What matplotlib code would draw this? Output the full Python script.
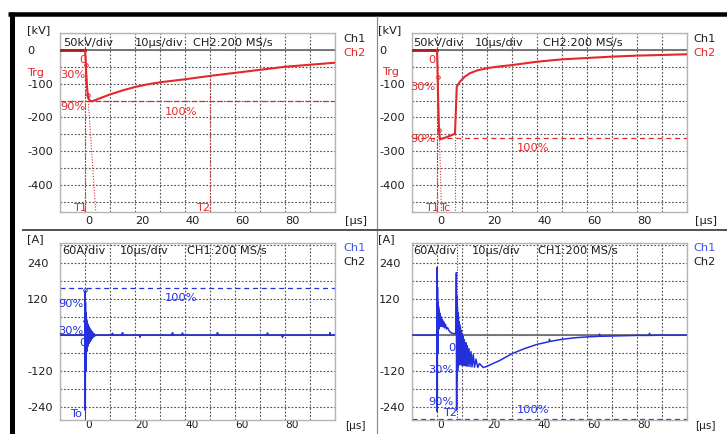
import matplotlib
matplotlib.use("Agg")
import matplotlib.pyplot as plt
from matplotlib.lines import Line2D
import numpy as np

plt.rcParams['font.family'] = ['DejaVu Sans']

# ---------------- data ----------------
# top-left: voltage impulse (kV)
t_v1 = [-10, 0, 0.2, 0.5, 0.9, 1.3, 2, 3, 5, 10, 15, 20, 25, 30, 40, 50, 60, 70, 80, 90, 100]
v1 = [0, 0, -20, -70, -120, -142, -151, -152, -146, -132, -120, -110, -102, -96, -87, -77, -68, -59, -50, -44, -38]

# top-right: chopped voltage impulse (kV)
t_v2 = [-10, 0, 0.2, 0.5, 0.8, 1.2, 2, 4, 6, 7.2, 7.5, 7.9, 9.2, 11, 13.2, 16, 20, 25, 30, 40, 50, 60, 70, 80, 90, 100]
v2 = [0, 0, -50, -160, -235, -265, -263, -258, -252, -248, -190, -109, -94, -80, -69, -61, -54, -49, -45, -35, -28, -24, -20, -17, -15, -13]

# bottom-left: current (A)
t_i1 = [-10, -0.05, 0.0, 0.08, 0.16, 0.25, 0.35, 0.45, 0.55, 0.65, 0.75, 0.85, 0.95, 1.05, 1.15, 1.25,
        1.35, 1.45, 1.55, 1.65, 1.75, 1.9, 2.05, 2.2, 2.35, 2.5, 2.7, 2.9, 3.1, 3.4, 3.7, 4.0, 4.5,
        10.8, 11.0, 11.2, 14.8, 15.0, 15.2, 21.8, 22.0, 22.2, 34.8, 35.0, 35.2, 38.8, 39.0, 39.2,
        52.8, 53.0, 53.2, 72.8, 73.0, 73.2, 78.8, 79.0, 79.2, 97.8, 98.0, 98.2, 100]
i1 = [0, 0, 145, -250, 110, -120, 75, -80, 55, -55, 45, -45, 38, -38, 34, -32,
      30, -28, 27, -25, 24, -22, 20, -18, 16, -14, 12, -10, 8, -6, 4, -2, 0,
      0, 6, 0, 0, 8, 0, 0, -7, 0, 0, 8, 0, 0, 7, 0,
      0, 8, 0, 0, 7, 0, 0, -7, 0, 0, 8, 0, 0]

# bottom-right: current (A)
t_i2 = [-10, -0.05, 0.0, 0.1, 0.2, 0.3, 0.4, 0.5, 0.6, 0.7, 0.8, 0.9, 1.0, 1.1, 1.2, 1.35, 1.5, 1.65,
        1.8, 2.0, 2.2, 2.4, 2.7, 3.0, 3.4, 3.8, 4.2, 5.0, 6.0, 7.0, 7.6,
        7.75, 7.85, 7.95, 8.05, 8.15, 8.25, 8.35, 8.45, 8.55, 8.65, 8.75, 8.9, 9.05, 9.2, 9.35, 9.5,
        9.7, 9.9, 10.1, 10.3, 10.5, 10.7, 10.9, 11.2, 11.5, 11.8, 12.1, 12.4, 12.8, 13.2, 13.6,
        14.0, 14.5, 15.0, 15.6, 16.3, 17.0, 18.5,
        20, 25, 30, 35, 40, 44.8, 45, 45.2, 50, 55, 60, 64.8, 65, 65.2, 70, 80, 84.8, 85, 85.2, 90, 100]
i2 = [0, 0, 225, -255, 160, -60, 110, 10, 95, 20, 85, 25, 75, 28, 70, 30, 62, 30,
      56, 30, 50, 28, 44, 24, 36, 20, 25, 12, 6, 5, 5,
      208, -250, 130, -150, 95, -120, 75, -105, 60, -100, 45, -98, 35, -98, 25, -98,
      15, -100, 5, -100, -5, -100, -15, -102, -25, -103, -35, -104, -45, -105, -55,
      -106, -65, -107, -80, -108, -95, -108,
      -104, -85, -62, -45, -31, -22, -14, -21, -14, -9, -6, -4, 3, -4, -3, -1, -1, 6, -1, 0, 0]

x_ticklabels = ['0', '20', '40', '60', '80']
kv_ticklabels = ['0', '-100', '-200', '-300', '-400']
a_ticklabels = ['240', '120', '-120', '-240']
peak_v1 = -150
peak_v2 = -262
peak_i1 = 157
peak_i2 = -278

# ---------------- figure ----------------
W, H = 727, 434
fig = plt.figure(figsize=(W / 100, H / 100), dpi=100)
fig.patch.set_facecolor('white')

RED = '#e3282b'
DRED = '#a81c1c'
BLUE = '#2330dc'
LBLUE = '#3b55e6'
TXT = '#1e1e1e'
FS = 8.2


def px_axes(x0, y0, x1, y1):
    return fig.add_axes([x0 / W, 1 - y1 / H, (x1 - x0) / W, (y1 - y0) / H])


def T(x, y, s, color=TXT, size=FS, ha='left'):
    fig.text(x / W, 1 - y / H, s, color=color, fontsize=size, ha=ha, va='center')


def style(ax, ylim, ystep, ylabels_vals, ylabels, xpad_px, xfs):
    ax.set_xlim(-10, 100)
    ax.set_ylim(*ylim)
    xt = np.arange(-10, 101, 10)
    ax.set_xticks(xt)
    ax.set_xticklabels([str(int(v)) if str(int(v)) in x_ticklabels else '' for v in xt])
    yt = np.arange(np.ceil(ylim[0] / ystep) * ystep, ylim[1] + 0.1, ystep)
    ax.set_yticks(yt)
    lab = []
    for v in yt:
        s = ''
        for lv, ls in zip(ylabels_vals, ylabels):
            if abs(v - lv) < 1e-6:
                s = ls
        lab.append(s)
    ax.set_yticklabels(lab)
    ax.tick_params(axis='both', length=0, labelsize=FS, colors=TXT)
    ax.tick_params(axis='x', labelsize=xfs, pad=xpad_px * 0.72)
    ax.tick_params(axis='y', pad=33 * 0.72)
    for l in ax.get_yticklabels():
        l.set_horizontalalignment('left')
    for l in ax.get_xticklabels():
        l.set_horizontalalignment('left')
    ax.grid(True, color='#555555', linestyle=(0, (1.6, 1.6)), linewidth=0.8)
    ax.set_axisbelow(True)
    for sp in ax.spines.values():
        sp.set_color('#b4b4b4')
        sp.set_linewidth(1.0)
    ax.axhline(0, color='#707070', lw=1.3, zorder=1.5)


# ---------------- top-left ----------------
ax1 = px_axes(60, 33, 335, 212)
style(ax1, (-480, 50), 50, [0, -100, -200, -300, -400], kv_ticklabels, 4, FS)
ax1.plot(t_v1[:2], v1[:2], color=DRED, lw=2.0, zorder=3)
ax1.plot(t_v1[1:], v1[1:], color=RED, lw=1.5, zorder=3)
ax1.axhline(peak_v1, color=RED, lw=0.9, ls=(0, (4, 3)), zorder=2)
ax1.plot([0.0, 0.0], [0, -480], color=RED, lw=0.8, ls=(0, (1, 1.5)), zorder=2)
ax1.plot([0.35, 4.3], [-45, -480], color=RED, lw=0.8, ls=(0, (1, 1.5)), zorder=2)
ax1.plot([50, 50], [-77, -480], color=RED, lw=0.8, ls=(0, (1, 1.5)), zorder=2)
ax1.plot([0.35, 1.2], [-45, -135], 'o', ms=2.5, mfc='none', mec=RED, mew=0.7, zorder=4)

# ---------------- top-right ----------------
ax2 = px_axes(412, 33, 687, 212)
style(ax2, (-480, 50), 50, [0, -100, -200, -300, -400], kv_ticklabels, 4, FS)
ax2.plot(t_v2[:2], v2[:2], color=DRED, lw=2.0, zorder=3)
ax2.plot(t_v2[1:], v2[1:], color=RED, lw=1.5, zorder=3)
ax2.axhline(peak_v2, color=RED, lw=0.9, ls=(0, (4, 3)), zorder=2)
ax2.plot([0.0, 0.0], [0, -480], color=RED, lw=0.8, ls=(0, (1, 1.5)), zorder=2)
ax2.plot([0.3, 1.8], [-79, -480], color=RED, lw=0.8, ls=(0, (1, 1.5)), zorder=2)
ax2.plot([7.2, 7.2], [-248, -480], color=RED, lw=0.8, ls=(0, (1, 1.5)), zorder=2)
ax2.plot([0.3, 0.8], [-79, -236], 'o', ms=2.5, mfc='none', mec=RED, mew=0.7, zorder=4)

# ---------------- bottom-left ----------------
ax3 = px_axes(60, 243, 335, 420)
style(ax3, (-283, 307), 60, [240, 120, -120, -240], a_ticklabels, 0.5, 7.6)
ax3.axhline(peak_i1, color=BLUE, lw=0.9, ls=(0, (4, 3)), zorder=2)
ax3.plot([0, 0], [-283, 150], color=BLUE, lw=0.7, zorder=2)
ax3.plot(t_i1, i1, color=BLUE, lw=1.2, zorder=3)
ax3.plot([0, 0], [150, 47], 'o', ms=2.5, mfc='none', mec=BLUE, mew=0.7, zorder=4)

# ---------------- bottom-right ----------------
ax4 = px_axes(412, 243, 687, 420)
style(ax4, (-283, 307), 60, [240, 120, -120, -240], a_ticklabels, 0.5, 7.6)
ax4.axhline(peak_i2, color=BLUE, lw=0.9, ls=(0, (4, 3)), zorder=2)
ax4.plot([7.9, 7.9], [-283, 307], color=BLUE, lw=0.8, ls=(0, (1, 1.5)), zorder=2)
ax4.plot(t_i2, i2, color=BLUE, lw=1.1, zorder=3)

# ---------------- texts ----------------
T(27, 30, '[kV]')
T(63, 43, '50kV/div'); T(135, 43, '10µs/div'); T(193, 43, 'CH2:200 MS/s')
T(343, 39, 'Ch1'); T(343, 53, 'Ch2', RED)
T(27, 73, 'Trg', RED)
T(79, 60, '0', RED); T(60, 75, '30%', RED); T(60, 107, '90%', RED)
T(165, 112, '100%', RED); T(73, 208, 'T1', RED); T(196, 208, 'T2', RED)
T(345, 221, '[µs]')

T(378, 30, '[kV]')
T(413, 43, '50kV/div'); T(475, 43, '10µs/div'); T(543, 43, 'CH2:200 MS/s')
T(693, 39, 'Ch1'); T(693, 53, 'Ch2', RED)
T(382, 72, 'Trg', RED)
T(428, 60, '0', RED); T(410, 87, '30%', RED); T(410, 139, '90%', RED)
T(517, 148, '100%', RED); T(425, 208, 'T1', RED); T(439, 208, 'Tc', RED)
T(695, 221, '[µs]')

T(27, 239, '[A]')
T(62, 251, '60A/div'); T(120, 251, '10µs/div'); T(187, 251, 'CH1:200 MS/s')
T(343, 248, 'Ch1', LBLUE); T(343, 262, 'Ch2')
T(58, 304, '90%', BLUE); T(58, 331, '30%', BLUE); T(79, 343, '0', BLUE)
T(165, 298, '100%', BLUE); T(70, 414, 'To', BLUE)
T(345, 426, '[µs]', size=7.6)

T(378, 239, '[A]')
T(413, 251, '60A/div'); T(472, 251, '10µs/div'); T(538, 251, 'CH1:200 MS/s')
T(693, 248, 'Ch1', LBLUE); T(693, 262, 'Ch2')
T(448, 348, '0', BLUE); T(428, 370, '30%', BLUE); T(428, 402, '90%', BLUE)
T(443, 413, 'T2', BLUE); T(517, 410, '100%', BLUE)
T(695, 426, '[µs]', size=7.6)

# ---------------- frame decorations ----------------
def L(x0, y0, x1, y1, color, lw_px):
    fig.add_artist(Line2D([x0 / W, x1 / W], [1 - y0 / H, 1 - y1 / H], transform=fig.transFigure,
                          color=color, lw=lw_px * 0.72, solid_capstyle='butt'))

L(8, 14, 727, 14, 'black', 4.5)
L(11.5, 12, 11.5, 434, 'black', 5)
L(376.5, 16, 376.5, 434, '#8a8a8a', 1.2)
L(22, 230, 727, 230, '#555555', 2)

fig.savefig('out.png', dpi=100, facecolor='white')
